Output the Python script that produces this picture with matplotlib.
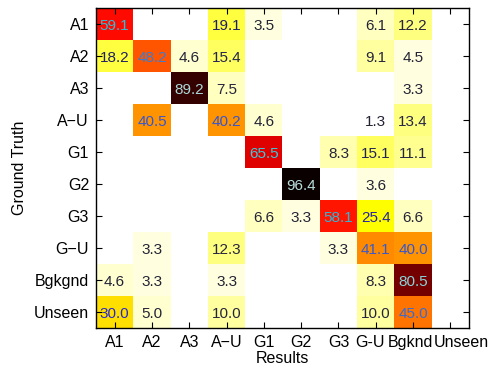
import numpy as np
import matplotlib
matplotlib.use("Agg")
import matplotlib.pyplot as plt
from matplotlib.colors import LinearSegmentedColormap
from matplotlib.transforms import ScaledTranslation

plt.rcParams['font.family'] = ['Liberation Sans', 'DejaVu Sans']

row_labels = ["A1", "A2", "A3", "A\u2212U", "G1", "G2", "G3", "G\u2212U", "Bgkgnd", "Unseen"]
col_labels = ["A1", "A2", "A3", "A\u2212U", "G1", "G2", "G3", "G-U", "Bgknd", "Unseen"]

row_A1 = [59.1, 0, 0, 19.1, 3.5, 0, 0, 6.1, 12.2, 0]
row_A2 = [18.2, 48.2, 4.6, 15.4, 0, 0, 0, 9.1, 4.5, 0]
row_A3 = [0, 0, 89.2, 7.5, 0, 0, 0, 0, 3.3, 0]
row_AU = [0, 40.5, 0, 40.2, 4.6, 0, 0, 1.3, 13.4, 0]
row_G1 = [0, 0, 0, 0, 65.5, 0, 8.3, 15.1, 11.1, 0]
row_G2 = [0, 0, 0, 0, 0, 96.4, 0, 3.6, 0, 0]
row_G3 = [0, 0, 0, 0, 6.6, 3.3, 58.1, 25.4, 6.6, 0]
row_GU = [0, 3.3, 0, 12.3, 0, 0, 3.3, 41.1, 40.0, 0]
row_Bg = [4.6, 3.3, 0, 3.3, 0, 0, 0, 8.3, 80.5, 0]
row_Un = [30.0, 5.0, 0, 10.0, 0, 0, 0, 10.0, 45.0, 0]

data = np.array([row_A1, row_A2, row_A3, row_AU, row_G1, row_G2, row_G3,
                 row_GU, row_Bg, row_Un])

fig = plt.figure(figsize=(4.96, 3.70), dpi=100)
ax = fig.add_axes([96/496, 1-328/370, (469-96)/496, (328-8)/370])

cmap = plt.get_cmap('hot_r', 64)
ax.imshow(data, cmap=cmap, vmin=0, vmax=data.max(), aspect='auto',
          interpolation='nearest')

txt_cmap = LinearSegmentedColormap.from_list('txt', [
    (0.0, '#222233'), (0.12, '#262640'), (0.2, '#1e1e70'), (0.3, '#2a2acc'),
    (0.45, '#3a6ad0'), (0.6, '#30c0d8'), (0.7, '#40d0e0'), (0.85, '#a0d8d8'),
    (1.0, '#c0e0e0')])

nr, nc = data.shape
for i in range(nr):
    for j in range(nc):
        v = data[i, j]
        if v > 0:
            ax.text(j, i + 0.05, f"{v:.1f}", ha='center', va='center',
                    fontsize=11, color=txt_cmap(v / 100.0))

ax.set_xticks(range(nc))
ax.set_xticklabels(col_labels, fontsize=11.5)
ax.set_yticks(range(nr))
ax.set_yticklabels(row_labels, fontsize=11.5)
ax.tick_params(direction='in', length=4, top=True, right=True, width=0.8, pad=5)
ax.set_xlabel("Results", fontsize=11.5, labelpad=1)
ax.set_ylabel("Ground Truth", fontsize=11.5, labelpad=5)
for s in ax.spines.values():
    s.set_linewidth(1.0)

shifts = {7: -6, 8: -3, 9: 11}
for k, lab in enumerate(ax.get_xticklabels()):
    if k in shifts:
        lab.set_transform(lab.get_transform() +
                          ScaledTranslation(shifts[k] / 100.0, 0, fig.dpi_scale_trans))

fig.savefig("out.png", dpi=100)
